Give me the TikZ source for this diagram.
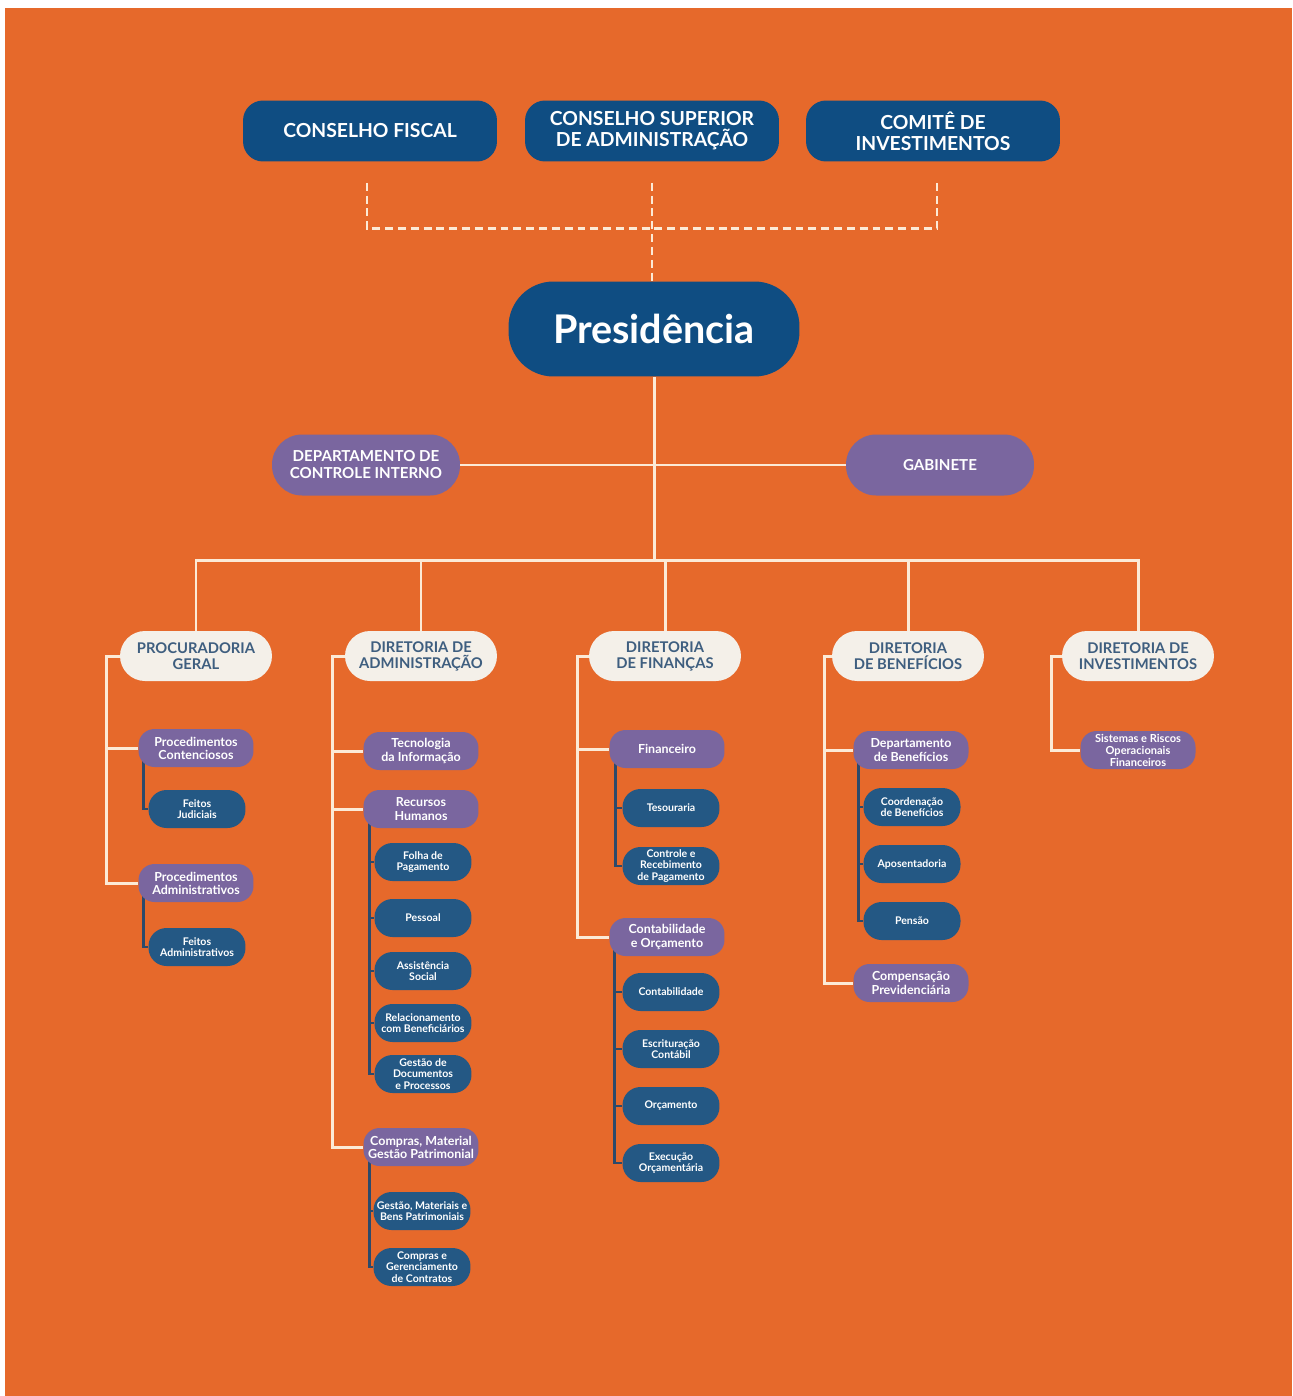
\documentclass[tikz,border=0pt]{standalone}
\usepackage{fontspec}
\setmainfont{Lato}
\definecolor{orangebg}{HTML}{E6692B}
\definecolor{navy}{HTML}{0F4D82}
\definecolor{steel}{HTML}{245884}
\definecolor{lilac}{HTML}{7A669F}
\definecolor{cream}{HTML}{F4F0E9}
\definecolor{creamtext}{HTML}{3E5E7F}
\definecolor{wirecol}{HTML}{FCEAD6}
\definecolor{linkcol}{HTML}{2C4A6B}
\pgfdeclarelayer{bg}
\pgfdeclarelayer{wires}
\pgfsetlayers{bg,wires,main}
\begin{document}
\begin{tikzpicture}[x=0.02cm,y=-0.02cm,
  every node/.style={inner sep=0pt,align=center},
  council/.style={fill=navy,text=white,font=\bfseries\fontsize{11}{12}\selectfont,minimum width=5.08cm,minimum height=1.22cm,rounded corners=0.4cm},
  chief/.style={fill=navy,text=white,font=\bfseries\fontsize{22.5}{24}\selectfont,minimum width=5.82cm,minimum height=1.9cm,rounded corners=0.9cm},
  staff/.style={fill=lilac,text=white,font=\bfseries\fontsize{8.6}{9.7}\selectfont,minimum width=3.76cm,minimum height=1.22cm,rounded corners=0.6cm},
  board/.style={fill=cream,text=creamtext,font=\bfseries\fontsize{8.4}{9.2}\selectfont,minimum width=3.04cm,minimum height=1cm,rounded corners=0.5cm},
  dept/.style={fill=lilac,text=white,font=\bfseries\fontsize{7.1}{7.5}\selectfont,minimum width=2.3cm,minimum height=0.76cm,rounded corners=0.32cm},
  unit/.style={fill=steel,text=white,font=\bfseries\fontsize{6}{6.4}\selectfont,minimum width=1.94cm,minimum height=0.76cm,rounded corners=0.36cm},
  wire/.style={draw=wirecol,line width=1.7pt},
  link/.style={draw=linkcol,line width=1.6pt},
  dashline/.style={draw=wirecol,line width=1.6pt,dash pattern=on 4.5pt off 2.8pt}]
\useasboundingbox (0,0) rectangle (1292,1396);
\begin{pgfonlayer}{bg}
  \fill[orangebg] (5,8) rectangle (1292,1396);
\end{pgfonlayer}
\node[council] (cf) at (370,131) {CONSELHO FISCAL};
\node[council] (csa) at (652,131) {CONSELHO SUPERIOR\\DE ADMINISTRAÇÃO};
\node[council] (cmi) at (933,131) {COMITÊ DE\\INVESTIMENTOS};
\node[chief] (pres) at (654,329) {Presidência};
\node[staff] (dci) at (366,465) {DEPARTAMENTO DE\\CONTROLE INTERNO};
\node[staff] (gab) at (940,465) {GABINETE};
\coordinate (bus) at (654,560);
\node[board] (proc) at (196,656) {PROCURADORIA\\GERAL};
\node[board] (dadm) at (421,656) {DIRETORIA DE\\ADMINISTRAÇÃO};
\node[board] (dfin) at (665,656) {DIRETORIA\\DE FINANÇAS};
\node[board] (dben) at (908,656) {DIRETORIA\\DE BENEFÍCIOS};
\node[board] (dinv) at (1138,656) {DIRETORIA DE\\INVESTIMENTOS};
\node[dept] (pcont) at (196,748) {Procedimentos\\Contenciosos};
\node[unit] (fj) at (197,809) {Feitos\\Judiciais};
\node[dept] (padm) at (196,883) {Procedimentos\\Administrativos};
\node[unit] (fadm) at (197,947) {Feitos\\Administrativos};
\node[dept] (ti) at (421,751) {Tecnologia\\da Informação};
\node[dept] (rh) at (421,809) {Recursos\\Humanos};
\node[unit] (folha) at (423,862) {Folha de\\Pagamento};
\node[unit] (pessoal) at (423,918) {Pessoal};
\node[unit] (assist) at (423,971) {Assistência\\Social};
\node[unit] (relac) at (423,1023) {Relacionamento\\com Beneficiários};
\node[unit] (gdoc) at (423,1074) {Gestão de\\Documentos\\e Processos};
\node[dept] (compras) at (421,1147) {Compras, Material\\Gestão Patrimonial};
\node[unit] (gmat) at (422,1211) {Gestão, Materiais e\\Bens Patrimoniais};
\node[unit] (gcont) at (422,1267) {Compras e\\Gerenciamento\\de Contratos};
\node[dept] (financ) at (667,749) {Financeiro};
\node[unit] (tes) at (671,808) {Tesouraria};
\node[unit] (crp) at (671,866) {Controle e\\Recebimento\\de Pagamento};
\node[dept] (contorc) at (667,937) {Contabilidade\\e Orçamento};
\node[unit] (cont) at (671,992) {Contabilidade};
\node[unit] (escr) at (671,1049) {Escrituração\\Contábil};
\node[unit] (orc) at (671,1106) {Orçamento};
\node[unit] (exec) at (671,1163) {Execução\\Orçamentária};
\node[dept] (depben) at (911,750) {Departamento\\de Benefícios};
\node[unit] (coord) at (912,807) {Coordenação\\de Benefícios};
\node[unit] (apos) at (912,864) {Aposentadoria};
\node[unit] (pensao) at (912,921) {Pensão};
\node[dept] (comp) at (911,983) {Compensação\\Previdenciária};
\node[dept,font=\bfseries\fontsize{6.3}{6.8}\selectfont] (sis) at (1138,750) {Sistemas e Riscos\\Operacionais\\Financeiros};
\begin{pgfonlayer}{wires}
  \draw[dashline] ([xshift=-0.06cm,yshift=-0.42cm]cf.south) -- ([xshift=-0.06cm,yshift=-1.34cm]cf.south) -| ([xshift=0.08cm,yshift=-0.42cm]cmi.south);
  \draw[dashline] ([yshift=-0.42cm]csa.south) -- (csa.south |- pres.north);
  \draw[wire] (pres) -- (bus);
  \draw[wire] (dci) -- (gab);
  \draw[wire] (proc) -- (proc |- bus) -| (dinv);
  \foreach \n in {dadm,dfin,dben}
    \draw[wire] (\n) -- (\n |- bus);
  \draw[wire] (proc.west) -- ++(-13,0) |- (pcont.west);
  \draw[wire] (proc.west) -- ++(-13,0) |- (padm.west);
  \draw[wire] (dadm.west) -- ++(-12,0) |- (ti.west);
  \draw[wire] (dadm.west) -- ++(-12,0) |- (rh.west);
  \draw[wire] (dadm.west) -- ++(-12,0) |- (compras.west);
  \draw[wire] (dfin.west) -- ++(-11,0) |- (financ.west);
  \draw[wire] (dfin.west) -- ++(-11,0) |- (contorc.west);
  \draw[wire] (dben.west) -- ++(-7,0) |- (depben.west);
  \draw[wire] (dben.west) -- ++(-7,0) |- (comp.west);
  \draw[wire] (dinv.west) -- ++(-10,0) |- (sis.west);
  \draw[link] ([xshift=0.11cm]pcont.west) |- (fj.west);
  \draw[link] ([xshift=0.11cm]padm.west) |- (fadm.west);
  \foreach \n in {folha,pessoal,assist,relac,gdoc}
    \draw[link] ([xshift=0.12cm]rh.west) |- (\n.west);
  \foreach \n in {gmat,gcont}
    \draw[link] ([xshift=0.12cm]compras.west) |- (\n.west);
  \foreach \n in {tes,crp}
    \draw[link] ([xshift=0.13cm]financ.west) |- (\n.west);
  \foreach \n in {cont,escr,orc,exec}
    \draw[link] ([xshift=0.11cm]contorc.west) |- (\n.west);
  \foreach \n in {coord,apos,pensao}
    \draw[link] ([xshift=0.1cm]depben.west) |- (\n.west);
\end{pgfonlayer}
\end{tikzpicture}
\end{document}
